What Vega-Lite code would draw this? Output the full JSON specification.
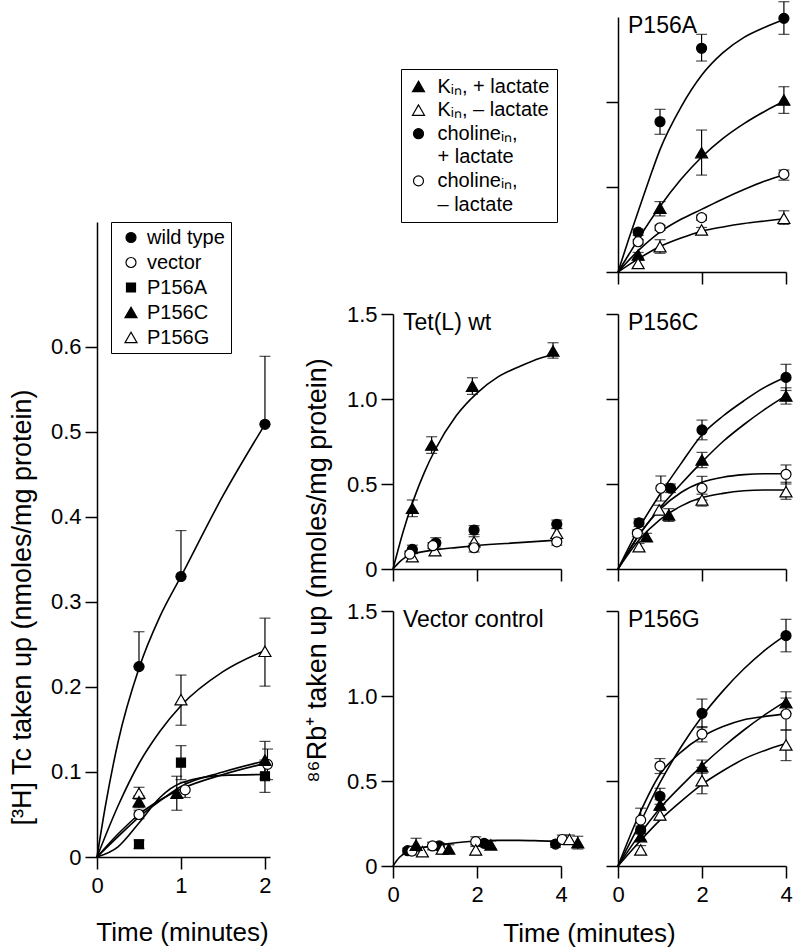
{
"$schema":"https://vega.github.io/schema/vega-lite/v6.json",
"autosize":{"type":"pad"},
"padding":{"left":8,"top":1,"right":2,"bottom":2},
"config":{
 "font":"Liberation Sans",
 "view":{"stroke":null},
 "axis":{"grid":false,"domainColor":"black","tickColor":"black","labelColor":"black","titleColor":"black","domainWidth":1.5,"tickWidth":1.5,"tickSize":12,"labelFontSize":22,"titleFontSize":27,"titleFontWeight":"normal","labelFont":"Liberation Sans","titleFont":"Liberation Sans","labelFlush":false,"labelOverlap":false},
 "axisX":{"labelPadding":6},
 "axisY":{"labelPadding":4},
 "legend":{"labelFontSize":20,"labelFont":"Liberation Sans","labelColor":"black","strokeColor":"black","symbolStrokeColor":"black","symbolStrokeWidth":1.2}
},
"datasets":{
 "pts":[
  {"p":"L","s":"wild type","t":0.5,"v":0.224,"lo":0.224,"hi":0.265},
  {"p":"L","s":"wild type","t":1,"v":0.33,"lo":0.33,"hi":0.384},
  {"p":"L","s":"wild type","t":2,"v":0.509,"lo":0.509,"hi":0.589},
  {"p":"L","s":"vector","t":0.5,"v":0.05,"lo":0.045,"hi":0.055},
  {"p":"L","s":"vector","t":1.05,"v":0.079,"lo":0.07,"hi":0.088},
  {"p":"L","s":"vector","t":2.03,"v":0.109,"lo":0.091,"hi":0.127},
  {"p":"L","s":"P156A","t":0.5,"v":0.015,"lo":0.01,"hi":0.02},
  {"p":"L","s":"P156A","t":1,"v":0.111,"lo":0.091,"hi":0.131},
  {"p":"L","s":"P156A","t":2,"v":0.095,"lo":0.076,"hi":0.114},
  {"p":"L","s":"P156G","t":0.5,"v":0.075,"lo":0.068,"hi":0.082},
  {"p":"L","s":"P156G","t":1,"v":0.185,"lo":0.155,"hi":0.214},
  {"p":"L","s":"P156G","t":2,"v":0.242,"lo":0.201,"hi":0.281},
  {"p":"L","s":"P156C","t":0.5,"v":0.065,"lo":0.058,"hi":0.072},
  {"p":"L","s":"P156C","t":0.95,"v":0.075,"lo":0.055,"hi":0.095},
  {"p":"L","s":"P156C","t":2,"v":0.114,"lo":0.092,"hi":0.136},

  {"p":"T","s":"k+","t":0.46,"v":0.357,"lo":0.308,"hi":0.406},
  {"p":"T","s":"k+","t":0.92,"v":0.729,"lo":0.68,"hi":0.778},
  {"p":"T","s":"k+","t":1.89,"v":1.076,"lo":1.027,"hi":1.125},
  {"p":"T","s":"k+","t":3.81,"v":1.282,"lo":1.24,"hi":1.331},
  {"p":"T","s":"c+","t":0.46,"v":0.115,"lo":0.09,"hi":0.14},
  {"p":"T","s":"c+","t":1.02,"v":0.153,"lo":0.122,"hi":0.184},
  {"p":"T","s":"c+","t":1.93,"v":0.229,"lo":0.203,"hi":0.255},
  {"p":"T","s":"c+","t":3.9,"v":0.263,"lo":0.238,"hi":0.288},
  {"p":"T","s":"k-","t":0.46,"v":0.072,"lo":0.045,"hi":0.1},
  {"p":"T","s":"k-","t":1,"v":0.108,"lo":0.08,"hi":0.135},
  {"p":"T","s":"k-","t":1.93,"v":0.16,"lo":0.13,"hi":0.19},
  {"p":"T","s":"k-","t":3.9,"v":0.21,"lo":0.18,"hi":0.24},
  {"p":"T","s":"c-","t":0.4,"v":0.088,"lo":0.07,"hi":0.105},
  {"p":"T","s":"c-","t":0.95,"v":0.137,"lo":0.12,"hi":0.155},
  {"p":"T","s":"c-","t":1.93,"v":0.125,"lo":0.1,"hi":0.15},
  {"p":"T","s":"c-","t":3.9,"v":0.16,"lo":0.14,"hi":0.18},

  {"p":"V","s":"c+","t":0.35,"v":0.09,"lo":0.075,"hi":0.105},
  {"p":"V","s":"c+","t":1.1,"v":0.118,"lo":0.1,"hi":0.135},
  {"p":"V","s":"c+","t":2.17,"v":0.133,"lo":0.115,"hi":0.15},
  {"p":"V","s":"c+","t":3.87,"v":0.129,"lo":0.11,"hi":0.145},
  {"p":"V","s":"c-","t":0.45,"v":0.088,"lo":0.065,"hi":0.11},
  {"p":"V","s":"c-","t":0.94,"v":0.118,"lo":0.095,"hi":0.14},
  {"p":"V","s":"c-","t":1.97,"v":0.143,"lo":0.115,"hi":0.172},
  {"p":"V","s":"c-","t":4.03,"v":0.156,"lo":0.13,"hi":0.182},
  {"p":"V","s":"k-","t":0.7,"v":0.084,"lo":0.059,"hi":0.11},
  {"p":"V","s":"k-","t":1.17,"v":0.1,"lo":0.07,"hi":0.13},
  {"p":"V","s":"k-","t":1.97,"v":0.094,"lo":0.065,"hi":0.125},
  {"p":"V","s":"k-","t":4.2,"v":0.156,"lo":0.13,"hi":0.182},
  {"p":"V","s":"k+","t":0.55,"v":0.123,"lo":0.085,"hi":0.163},
  {"p":"V","s":"k+","t":1.33,"v":0.1,"lo":0.075,"hi":0.125},
  {"p":"V","s":"k+","t":2.33,"v":0.124,"lo":0.1,"hi":0.148},
  {"p":"V","s":"k+","t":4.4,"v":0.137,"lo":0.1,"hi":0.175},

  {"p":"A","s":"c+","t":0.48,"v":0.234,"lo":0.215,"hi":0.253},
  {"p":"A","s":"c+","t":1,"v":0.884,"lo":0.81,"hi":0.957},
  {"p":"A","s":"c+","t":1.99,"v":1.316,"lo":1.241,"hi":1.398},
  {"p":"A","s":"c+","t":3.95,"v":1.492,"lo":1.398,"hi":1.59},
  {"p":"A","s":"k+","t":0.48,"v":0.1,"lo":0.085,"hi":0.115},
  {"p":"A","s":"k+","t":1,"v":0.375,"lo":0.33,"hi":0.414},
  {"p":"A","s":"k+","t":1.99,"v":0.702,"lo":0.57,"hi":0.835},
  {"p":"A","s":"k+","t":3.95,"v":1.012,"lo":0.933,"hi":1.09},
  {"p":"A","s":"c-","t":0.48,"v":0.178,"lo":0.165,"hi":0.19},
  {"p":"A","s":"c-","t":1,"v":0.26,"lo":0.245,"hi":0.275},
  {"p":"A","s":"c-","t":1.99,"v":0.32,"lo":0.305,"hi":0.335},
  {"p":"A","s":"c-","t":3.95,"v":0.575,"lo":0.54,"hi":0.6},
  {"p":"A","s":"k-","t":0.48,"v":0.05,"lo":0.03,"hi":0.07},
  {"p":"A","s":"k-","t":1,"v":0.149,"lo":0.11,"hi":0.19},
  {"p":"A","s":"k-","t":1.99,"v":0.247,"lo":0.232,"hi":0.262},
  {"p":"A","s":"k-","t":3.95,"v":0.316,"lo":0.28,"hi":0.36},

  {"p":"C","s":"c+","t":0.5,"v":0.272,"lo":0.25,"hi":0.295},
  {"p":"C","s":"c+","t":1.25,"v":0.475,"lo":0.45,"hi":0.5},
  {"p":"C","s":"c+","t":2,"v":0.818,"lo":0.76,"hi":0.876},
  {"p":"C","s":"c+","t":4,"v":1.127,"lo":1.05,"hi":1.204},
  {"p":"C","s":"k+","t":0.68,"v":0.19,"lo":0.17,"hi":0.21},
  {"p":"C","s":"k+","t":1.21,"v":0.318,"lo":0.28,"hi":0.355},
  {"p":"C","s":"k+","t":2,"v":0.641,"lo":0.596,"hi":0.686},
  {"p":"C","s":"k+","t":4,"v":1.018,"lo":0.97,"hi":1.066},
  {"p":"C","s":"c-","t":0.46,"v":0.21,"lo":0.19,"hi":0.23},
  {"p":"C","s":"c-","t":1.02,"v":0.475,"lo":0.4,"hi":0.547},
  {"p":"C","s":"c-","t":2,"v":0.475,"lo":0.405,"hi":0.545},
  {"p":"C","s":"c-","t":4,"v":0.557,"lo":0.5,"hi":0.612},
  {"p":"C","s":"k-","t":0.5,"v":0.131,"lo":0.11,"hi":0.15},
  {"p":"C","s":"k-","t":0.98,"v":0.347,"lo":0.32,"hi":0.375},
  {"p":"C","s":"k-","t":2,"v":0.406,"lo":0.37,"hi":0.44},
  {"p":"C","s":"k-","t":4,"v":0.455,"lo":0.41,"hi":0.51},

  {"p":"G","s":"c+","t":0.54,"v":0.212,"lo":0.19,"hi":0.235},
  {"p":"G","s":"c+","t":1,"v":0.41,"lo":0.363,"hi":0.457},
  {"p":"G","s":"c+","t":2,"v":0.898,"lo":0.814,"hi":0.982},
  {"p":"G","s":"c+","t":4,"v":1.355,"lo":1.26,"hi":1.451},
  {"p":"G","s":"c-","t":0.54,"v":0.27,"lo":0.2,"hi":0.34},
  {"p":"G","s":"c-","t":1,"v":0.588,"lo":0.544,"hi":0.632},
  {"p":"G","s":"c-","t":2,"v":0.776,"lo":0.73,"hi":0.82},
  {"p":"G","s":"c-","t":4,"v":0.894,"lo":0.8,"hi":0.988},
  {"p":"G","s":"k+","t":0.54,"v":0.173,"lo":0.155,"hi":0.19},
  {"p":"G","s":"k+","t":1,"v":0.359,"lo":0.33,"hi":0.39},
  {"p":"G","s":"k+","t":2,"v":0.584,"lo":0.545,"hi":0.623},
  {"p":"G","s":"k+","t":4,"v":0.961,"lo":0.897,"hi":1.025},
  {"p":"G","s":"k-","t":0.54,"v":0.094,"lo":0.07,"hi":0.12},
  {"p":"G","s":"k-","t":1,"v":0.3,"lo":0.27,"hi":0.33},
  {"p":"G","s":"k-","t":2,"v":0.502,"lo":0.425,"hi":0.58},
  {"p":"G","s":"k-","t":4,"v":0.712,"lo":0.62,"hi":0.8}
 ],
 "fits":[
  {"p":"L","s":"wild type","t":0,"v":0},{"p":"L","s":"wild type","t":0.1,"v":0.06},{"p":"L","s":"wild type","t":0.25,"v":0.135},{"p":"L","s":"wild type","t":0.5,"v":0.222},{"p":"L","s":"wild type","t":0.75,"v":0.283},{"p":"L","s":"wild type","t":1,"v":0.33},{"p":"L","s":"wild type","t":1.5,"v":0.425},{"p":"L","s":"wild type","t":2,"v":0.509},
  {"p":"L","s":"P156G","t":0,"v":0},{"p":"L","s":"P156G","t":0.25,"v":0.06},{"p":"L","s":"P156G","t":0.5,"v":0.11},{"p":"L","s":"P156G","t":0.75,"v":0.148},{"p":"L","s":"P156G","t":1,"v":0.178},{"p":"L","s":"P156G","t":1.5,"v":0.218},{"p":"L","s":"P156G","t":2,"v":0.243},
  {"p":"L","s":"vector","t":0,"v":0},{"p":"L","s":"vector","t":0.25,"v":0.027},{"p":"L","s":"vector","t":0.5,"v":0.05},{"p":"L","s":"vector","t":0.75,"v":0.067},{"p":"L","s":"vector","t":1,"v":0.08},{"p":"L","s":"vector","t":1.5,"v":0.097},{"p":"L","s":"vector","t":2,"v":0.11},
  {"p":"L","s":"P156C","t":0,"v":0},{"p":"L","s":"P156C","t":0.25,"v":0.024},{"p":"L","s":"P156C","t":0.5,"v":0.047},{"p":"L","s":"P156C","t":0.75,"v":0.066},{"p":"L","s":"P156C","t":1,"v":0.083},{"p":"L","s":"P156C","t":1.5,"v":0.1},{"p":"L","s":"P156C","t":2,"v":0.113},
  {"p":"L","s":"P156A","t":0,"v":0},{"p":"L","s":"P156A","t":0.25,"v":0.012},{"p":"L","s":"P156A","t":0.5,"v":0.04},{"p":"L","s":"P156A","t":0.75,"v":0.07},{"p":"L","s":"P156A","t":1,"v":0.087},{"p":"L","s":"P156A","t":1.5,"v":0.096},{"p":"L","s":"P156A","t":2,"v":0.097},
  {"p":"T","s":"k+","t":0,"v":0},{"p":"T","s":"k+","t":0.25,"v":0.227},{"p":"T","s":"k+","t":0.5,"v":0.414},{"p":"T","s":"k+","t":0.75,"v":0.57},{"p":"T","s":"k+","t":1,"v":0.7},{"p":"T","s":"k+","t":1.5,"v":0.9},{"p":"T","s":"k+","t":2,"v":1.035},{"p":"T","s":"k+","t":2.5,"v":1.13},{"p":"T","s":"k+","t":3,"v":1.19},{"p":"T","s":"k+","t":3.5,"v":1.24},{"p":"T","s":"k+","t":3.9,"v":1.265},
  {"p":"T","s":"low","t":0,"v":0},{"p":"T","s":"low","t":0.15,"v":0.04},{"p":"T","s":"low","t":0.3,"v":0.07},{"p":"T","s":"low","t":0.5,"v":0.09},{"p":"T","s":"low","t":1,"v":0.112},{"p":"T","s":"low","t":1.5,"v":0.126},{"p":"T","s":"low","t":2,"v":0.138},{"p":"T","s":"low","t":3,"v":0.155},{"p":"T","s":"low","t":3.9,"v":0.17},
  {"p":"V","s":"fit","t":0,"v":0},{"p":"V","s":"fit","t":0.15,"v":0.05},{"p":"V","s":"fit","t":0.3,"v":0.078},{"p":"V","s":"fit","t":0.5,"v":0.097},{"p":"V","s":"fit","t":1,"v":0.12},{"p":"V","s":"fit","t":1.5,"v":0.137},{"p":"V","s":"fit","t":2,"v":0.147},{"p":"V","s":"fit","t":2.5,"v":0.151},{"p":"V","s":"fit","t":3,"v":0.151},{"p":"V","s":"fit","t":3.5,"v":0.148},{"p":"V","s":"fit","t":3.9,"v":0.145},
  {"p":"A","s":"c+","t":0,"v":0},{"p":"A","s":"c+","t":0.25,"v":0.19},{"p":"A","s":"c+","t":0.5,"v":0.37},{"p":"A","s":"c+","t":0.75,"v":0.55},{"p":"A","s":"c+","t":1,"v":0.72},{"p":"A","s":"c+","t":1.5,"v":0.97},{"p":"A","s":"c+","t":2,"v":1.16},{"p":"A","s":"c+","t":2.5,"v":1.29},{"p":"A","s":"c+","t":3,"v":1.38},{"p":"A","s":"c+","t":3.5,"v":1.44},{"p":"A","s":"c+","t":4,"v":1.49},
  {"p":"A","s":"k+","t":0,"v":0},{"p":"A","s":"k+","t":0.25,"v":0.1},{"p":"A","s":"k+","t":0.5,"v":0.2},{"p":"A","s":"k+","t":1,"v":0.385},{"p":"A","s":"k+","t":1.5,"v":0.545},{"p":"A","s":"k+","t":2,"v":0.678},{"p":"A","s":"k+","t":2.5,"v":0.786},{"p":"A","s":"k+","t":3,"v":0.873},{"p":"A","s":"k+","t":3.5,"v":0.946},{"p":"A","s":"k+","t":4,"v":1.01},
  {"p":"A","s":"c-","t":0,"v":0},{"p":"A","s":"c-","t":0.5,"v":0.13},{"p":"A","s":"c-","t":1,"v":0.235},{"p":"A","s":"c-","t":1.5,"v":0.31},{"p":"A","s":"c-","t":2,"v":0.37},{"p":"A","s":"c-","t":2.5,"v":0.43},{"p":"A","s":"c-","t":3,"v":0.485},{"p":"A","s":"c-","t":3.5,"v":0.535},{"p":"A","s":"c-","t":4,"v":0.575},
  {"p":"A","s":"k-","t":0,"v":0},{"p":"A","s":"k-","t":0.5,"v":0.08},{"p":"A","s":"k-","t":1,"v":0.15},{"p":"A","s":"k-","t":1.5,"v":0.2},{"p":"A","s":"k-","t":2,"v":0.24},{"p":"A","s":"k-","t":2.5,"v":0.265},{"p":"A","s":"k-","t":3,"v":0.285},{"p":"A","s":"k-","t":3.5,"v":0.3},{"p":"A","s":"k-","t":4,"v":0.315},
  {"p":"C","s":"c+","t":0,"v":0},{"p":"C","s":"c+","t":0.5,"v":0.24},{"p":"C","s":"c+","t":1,"v":0.44},{"p":"C","s":"c+","t":1.5,"v":0.62},{"p":"C","s":"c+","t":2,"v":0.79},{"p":"C","s":"c+","t":2.5,"v":0.9},{"p":"C","s":"c+","t":3,"v":0.99},{"p":"C","s":"c+","t":3.5,"v":1.07},{"p":"C","s":"c+","t":4,"v":1.13},
  {"p":"C","s":"k+","t":0,"v":0},{"p":"C","s":"k+","t":0.5,"v":0.2},{"p":"C","s":"k+","t":1,"v":0.36},{"p":"C","s":"k+","t":1.5,"v":0.5},{"p":"C","s":"k+","t":2,"v":0.63},{"p":"C","s":"k+","t":2.5,"v":0.75},{"p":"C","s":"k+","t":3,"v":0.85},{"p":"C","s":"k+","t":3.5,"v":0.94},{"p":"C","s":"k+","t":4,"v":1.02},
  {"p":"C","s":"c-","t":0,"v":0},{"p":"C","s":"c-","t":0.5,"v":0.2},{"p":"C","s":"c-","t":1,"v":0.35},{"p":"C","s":"c-","t":1.5,"v":0.45},{"p":"C","s":"c-","t":2,"v":0.51},{"p":"C","s":"c-","t":2.5,"v":0.54},{"p":"C","s":"c-","t":3,"v":0.555},{"p":"C","s":"c-","t":3.5,"v":0.56},{"p":"C","s":"c-","t":4,"v":0.56},
  {"p":"C","s":"k-","t":0,"v":0},{"p":"C","s":"k-","t":0.5,"v":0.17},{"p":"C","s":"k-","t":1,"v":0.29},{"p":"C","s":"k-","t":1.5,"v":0.37},{"p":"C","s":"k-","t":2,"v":0.42},{"p":"C","s":"k-","t":2.5,"v":0.445},{"p":"C","s":"k-","t":3,"v":0.46},{"p":"C","s":"k-","t":3.5,"v":0.465},{"p":"C","s":"k-","t":4,"v":0.465},
  {"p":"G","s":"c+","t":0,"v":0},{"p":"G","s":"c+","t":0.5,"v":0.24},{"p":"G","s":"c+","t":1,"v":0.49},{"p":"G","s":"c+","t":1.5,"v":0.7},{"p":"G","s":"c+","t":2,"v":0.88},{"p":"G","s":"c+","t":2.5,"v":1.03},{"p":"G","s":"c+","t":3,"v":1.16},{"p":"G","s":"c+","t":3.5,"v":1.27},{"p":"G","s":"c+","t":4,"v":1.36},
  {"p":"G","s":"c-","t":0,"v":0},{"p":"G","s":"c-","t":0.5,"v":0.3},{"p":"G","s":"c-","t":1,"v":0.54},{"p":"G","s":"c-","t":1.5,"v":0.67},{"p":"G","s":"c-","t":2,"v":0.76},{"p":"G","s":"c-","t":2.5,"v":0.82},{"p":"G","s":"c-","t":3,"v":0.86},{"p":"G","s":"c-","t":3.5,"v":0.88},{"p":"G","s":"c-","t":4,"v":0.895},
  {"p":"G","s":"k+","t":0,"v":0},{"p":"G","s":"k+","t":0.5,"v":0.18},{"p":"G","s":"k+","t":1,"v":0.34},{"p":"G","s":"k+","t":1.5,"v":0.47},{"p":"G","s":"k+","t":2,"v":0.59},{"p":"G","s":"k+","t":2.5,"v":0.7},{"p":"G","s":"k+","t":3,"v":0.8},{"p":"G","s":"k+","t":3.5,"v":0.89},{"p":"G","s":"k+","t":4,"v":0.97},
  {"p":"G","s":"k-","t":0,"v":0},{"p":"G","s":"k-","t":0.5,"v":0.14},{"p":"G","s":"k-","t":1,"v":0.27},{"p":"G","s":"k-","t":1.5,"v":0.38},{"p":"G","s":"k-","t":2,"v":0.48},{"p":"G","s":"k-","t":2.5,"v":0.56},{"p":"G","s":"k-","t":3,"v":0.63},{"p":"G","s":"k-","t":3.5,"v":0.68},{"p":"G","s":"k-","t":4,"v":0.72}
 ],
 "labels":[
  {"p":"A","n":"P156A","t":0,"v":1.5},
  {"p":"T","n":"Tet(L) wt","t":0,"v":1.5},
  {"p":"C","n":"P156C","t":0,"v":1.5},
  {"p":"V","n":"Vector control","t":0,"v":1.5},
  {"p":"G","n":"P156G","t":0,"v":1.5}
 ]
},
"spacing":28,
"resolve":{"scale":{"shape":"independent","fill":"independent","size":"independent","stroke":"independent"},"legend":{"shape":"independent","fill":"independent","size":"independent","stroke":"independent"}},
"hconcat":[
 {
  "spacing":42,
  "bounds":"flush",
  "resolve":{"scale":{"shape":"independent","fill":"independent","size":"independent","stroke":"independent"},"legend":{"shape":"independent","fill":"independent","size":"independent","stroke":"independent"}},
  "vconcat":[
   {"width":173,"height":163,"data":{"values":[]},"mark":"point"},
   {"width":173,"height":635,
    "encoding":{
     "x":{"field":"t","type":"quantitative","scale":{"domain":[0,2.06],"nice":false},"axis":{"tickCount":2,"labelOverlap":false,"labelFlush":false,"labelExpr":"format(datum.value, 'd')","title":"Time (minutes)","titleFontSize":26,"titleX":85,"titleY":83,"titleBaseline":"alphabetic"}},
     "y":{"field":"v","type":"quantitative","scale":{"domain":[0,0.747],"nice":false},"axis":{"values":[0,0.1,0.2,0.3,0.4,0.5,0.6],"labelOverlap":false,"labelExpr":"datum.value == 0 ? '0' : format(datum.value, '.1f')","title":"[³H] Tc taken up (nmoles/mg protein)","titleY":385,"titlePadding":14}}
    },
    "layer":[
     {"data":{"name":"fits"},"transform":[{"filter":"datum.p == 'L'"}],"mark":{"type":"line","interpolate":"monotone","color":"black","strokeWidth":1.6},"encoding":{"detail":{"field":"s","type":"nominal"}}},
     {"data":{"name":"pts"},"transform":[{"filter":"datum.p == 'L'"}],"mark":{"type":"rule","color":"black","strokeWidth":1.2},"encoding":{"y":{"field":"lo","type":"quantitative"},"y2":{"field":"hi"}}},
     {"data":{"name":"pts"},"transform":[{"filter":"datum.p == 'L'"}],"mark":{"type":"tick","orient":"horizontal","size":11,"thickness":1.2,"color":"black"},"encoding":{"y":{"field":"hi","type":"quantitative"}}},
     {"data":{"name":"pts"},"transform":[{"filter":"datum.p == 'L'"}],"mark":{"type":"tick","orient":"horizontal","size":11,"thickness":1.2,"color":"black"},"encoding":{"y":{"field":"lo","type":"quantitative"}}},
     {"data":{"name":"pts"},"transform":[{"filter":"datum.p == 'L'"}],"mark":{"type":"point","opacity":1,"strokeWidth":1.2},
      "encoding":{
       "shape":{"field":"s","type":"nominal","scale":{"domain":["wild type","vector","P156A","P156C","P156G"],"range":["circle","circle","square","triangle-up","triangle-up"]},"legend":{"title":null,"orient":"none","legendX":14,"legendY":0,"padding":5.5,"rowPadding":5,"symbolOffset":4.5,"labelOffset":6,"strokeColor":"black"}},
       "fill":{"field":"s","type":"nominal","scale":{"domain":["wild type","vector","P156A","P156C","P156G"],"range":["black","white","black","black","white"]},"legend":{"title":null,"orient":"none","legendX":14,"legendY":0,"padding":5.5,"rowPadding":5,"symbolOffset":4.5,"labelOffset":6,"strokeColor":"black"}},
       "stroke":{"field":"s","type":"nominal","scale":{"domain":["wild type","vector","P156A","P156C","P156G"],"range":["black","black","black","black","black"]},"legend":{"title":null,"orient":"none","legendX":14,"legendY":0,"padding":5.5,"rowPadding":5,"symbolOffset":4.5,"labelOffset":6,"strokeColor":"black"}},
       "size":{"field":"s","type":"nominal","scale":{"type":"ordinal","domain":["wild type","vector","P156A","P156C","P156G"],"range":[100,100,81,144,144]},"legend":{"title":null,"orient":"none","legendX":14,"legendY":0,"padding":5.5,"rowPadding":5,"symbolOffset":4.5,"labelOffset":6,"strokeColor":"black"}}}}
    ]
   }
  ]
 },
 {
  "columns":2,
  "spacing":{"row":42,"column":57},
  "bounds":"flush",
  "resolve":{"scale":{"shape":"independent","fill":"independent","size":"independent","stroke":"independent"},"legend":{"shape":"independent","fill":"independent","size":"independent","stroke":"independent"}},
  "concat":[
   {"width":168,"height":255,"data":{"values":[]},
    "mark":{"type":"point","opacity":1,"strokeWidth":1.2},
    "encoding":{
     "shape":{"field":"s","type":"nominal","scale":{"domain":["k+","k-","c+","c+2","c-","c-2"],"range":["triangle-up","triangle-up","circle","circle","circle","circle"]},"legend":{"title":null,"orient":"none","legendX":8,"legendY":52,"padding":7.5,"rowPadding":3.6,"labelOffset":9,"strokeColor":"black","labelExpr":"datum.value == 'k+' ? 'Kᵢₙ, + lactate' : datum.value == 'k-' ? 'Kᵢₙ, – lactate' : (datum.value == 'c+' || datum.value == 'c-') ? 'cholineᵢₙ,' : datum.value == 'c+2' ? '+ lactate' : '– lactate'"}},
     "fill":{"field":"s","type":"nominal","scale":{"domain":["k+","k-","c+","c+2","c-","c-2"],"range":["black","white","black","transparent","white","transparent"]},"legend":{"title":null,"orient":"none","legendX":8,"legendY":52,"padding":7.5,"rowPadding":3.6,"labelOffset":9,"strokeColor":"black","labelExpr":"datum.value == 'k+' ? 'Kᵢₙ, + lactate' : datum.value == 'k-' ? 'Kᵢₙ, – lactate' : (datum.value == 'c+' || datum.value == 'c-') ? 'cholineᵢₙ,' : datum.value == 'c+2' ? '+ lactate' : '– lactate'"}},
     "stroke":{"field":"s","type":"nominal","scale":{"domain":["k+","k-","c+","c+2","c-","c-2"],"range":["black","black","black","transparent","black","transparent"]},"legend":{"title":null,"orient":"none","legendX":8,"legendY":52,"padding":7.5,"rowPadding":3.6,"labelOffset":9,"strokeColor":"black","labelExpr":"datum.value == 'k+' ? 'Kᵢₙ, + lactate' : datum.value == 'k-' ? 'Kᵢₙ, – lactate' : (datum.value == 'c+' || datum.value == 'c-') ? 'cholineᵢₙ,' : datum.value == 'c+2' ? '+ lactate' : '– lactate'"}},
     "size":{"field":"s","type":"nominal","scale":{"type":"ordinal","domain":["k+","k-","c+","c+2","c-","c-2"],"range":[144,144,100,0,100,0]},"legend":{"title":null,"orient":"none","legendX":8,"legendY":52,"padding":7.5,"rowPadding":3.6,"labelOffset":9,"strokeColor":"black","labelExpr":"datum.value == 'k+' ? 'Kᵢₙ, + lactate' : datum.value == 'k-' ? 'Kᵢₙ, – lactate' : (datum.value == 'c+' || datum.value == 'c-') ? 'cholineᵢₙ,' : datum.value == 'c+2' ? '+ lactate' : '– lactate'"}}
    }
   },
   {"width":168,"height":255,
    "encoding":{
     "x":{"field":"t","type":"quantitative","scale":{"domain":[0,4],"nice":false},"axis":{"values":[0,2,4],"labels":false,"title":null}},
     "y":{"field":"v","type":"quantitative","scale":{"domain":[0,1.5],"nice":false},"axis":{"values":[0,0.5,1],"labels":false,"title":null}}
    },
    "layer":[
     {"data":{"name":"fits"},"transform":[{"filter":"datum.p == 'A'"}],"mark":{"type":"line","interpolate":"monotone","color":"black","strokeWidth":1.6},"encoding":{"detail":{"field":"s","type":"nominal"}}},
     {"data":{"name":"pts"},"transform":[{"filter":"datum.p == 'A'"}],"mark":{"type":"rule","color":"black","strokeWidth":1.2},"encoding":{"y":{"field":"lo","type":"quantitative"},"y2":{"field":"hi"}}},
     {"data":{"name":"pts"},"transform":[{"filter":"datum.p == 'A'"}],"mark":{"type":"tick","orient":"horizontal","size":11,"thickness":1.2,"color":"black"},"encoding":{"y":{"field":"hi","type":"quantitative"}}},
     {"data":{"name":"pts"},"transform":[{"filter":"datum.p == 'A'"}],"mark":{"type":"tick","orient":"horizontal","size":11,"thickness":1.2,"color":"black"},"encoding":{"y":{"field":"lo","type":"quantitative"}}},
     {"data":{"name":"pts"},"transform":[{"filter":"datum.p == 'A'"}],"mark":{"type":"point","opacity":1,"stroke":"black","strokeWidth":1.2},
      "encoding":{
       "shape":{"field":"s","type":"nominal","scale":{"domain":["k+","k-","c+","c-"],"range":["triangle-up","triangle-up","circle","circle"]},"legend":null},
       "fill":{"field":"s","type":"nominal","scale":{"domain":["k+","k-","c+","c-"],"range":["black","white","black","white"]},"legend":null},
       "size":{"field":"s","type":"nominal","scale":{"type":"ordinal","domain":["k+","k-","c+","c-"],"range":[144,144,100,100]},"legend":null}}},
     {"data":{"name":"labels"},"transform":[{"filter":"datum.p == 'A'"}],"mark":{"type":"text","align":"left","baseline":"alphabetic","dx":10,"dy":16,"fontSize":23,"color":"black"},"encoding":{"text":{"field":"n","type":"nominal"}}}
    ]
   },
   {"width":168,"height":255,
    "encoding":{
     "x":{"field":"t","type":"quantitative","scale":{"domain":[0,4],"nice":false},"axis":{"values":[0,2,4],"labels":false,"title":null}},
     "y":{"field":"v","type":"quantitative","scale":{"domain":[0,1.5],"nice":false},"axis":{"values":[0,0.5,1,1.5],"labelExpr":"datum.value == 0 ? '0' : format(datum.value, '.1f')","title":"⁸⁶Rb⁺ taken up (nmoles/mg protein)","titleY":256,"titlePadding":15}}
    },
    "layer":[
     {"data":{"name":"fits"},"transform":[{"filter":"datum.p == 'T'"}],"mark":{"type":"line","interpolate":"monotone","color":"black","strokeWidth":1.6},"encoding":{"detail":{"field":"s","type":"nominal"}}},
     {"data":{"name":"pts"},"transform":[{"filter":"datum.p == 'T'"}],"mark":{"type":"rule","color":"black","strokeWidth":1.2},"encoding":{"y":{"field":"lo","type":"quantitative"},"y2":{"field":"hi"}}},
     {"data":{"name":"pts"},"transform":[{"filter":"datum.p == 'T'"}],"mark":{"type":"tick","orient":"horizontal","size":11,"thickness":1.2,"color":"black"},"encoding":{"y":{"field":"hi","type":"quantitative"}}},
     {"data":{"name":"pts"},"transform":[{"filter":"datum.p == 'T'"}],"mark":{"type":"tick","orient":"horizontal","size":11,"thickness":1.2,"color":"black"},"encoding":{"y":{"field":"lo","type":"quantitative"}}},
     {"data":{"name":"pts"},"transform":[{"filter":"datum.p == 'T'"}],"mark":{"type":"point","opacity":1,"stroke":"black","strokeWidth":1.2},
      "encoding":{
       "shape":{"field":"s","type":"nominal","scale":{"domain":["k+","k-","c+","c-"],"range":["triangle-up","triangle-up","circle","circle"]},"legend":null},
       "fill":{"field":"s","type":"nominal","scale":{"domain":["k+","k-","c+","c-"],"range":["black","white","black","white"]},"legend":null},
       "size":{"field":"s","type":"nominal","scale":{"type":"ordinal","domain":["k+","k-","c+","c-"],"range":[144,144,100,100]},"legend":null}}},
     {"data":{"name":"labels"},"transform":[{"filter":"datum.p == 'T'"}],"mark":{"type":"text","align":"left","baseline":"alphabetic","dx":10,"dy":16,"fontSize":23,"color":"black"},"encoding":{"text":{"field":"n","type":"nominal"}}}
    ]
   },
   {"width":168,"height":255,
    "encoding":{
     "x":{"field":"t","type":"quantitative","scale":{"domain":[0,4],"nice":false},"axis":{"values":[0,2,4],"labels":false,"title":null}},
     "y":{"field":"v","type":"quantitative","scale":{"domain":[0,1.5],"nice":false},"axis":{"values":[0,0.5,1,1.5],"labels":false,"title":null}}
    },
    "layer":[
     {"data":{"name":"fits"},"transform":[{"filter":"datum.p == 'C'"}],"mark":{"type":"line","interpolate":"monotone","color":"black","strokeWidth":1.6},"encoding":{"detail":{"field":"s","type":"nominal"}}},
     {"data":{"name":"pts"},"transform":[{"filter":"datum.p == 'C'"}],"mark":{"type":"rule","color":"black","strokeWidth":1.2},"encoding":{"y":{"field":"lo","type":"quantitative"},"y2":{"field":"hi"}}},
     {"data":{"name":"pts"},"transform":[{"filter":"datum.p == 'C'"}],"mark":{"type":"tick","orient":"horizontal","size":11,"thickness":1.2,"color":"black"},"encoding":{"y":{"field":"hi","type":"quantitative"}}},
     {"data":{"name":"pts"},"transform":[{"filter":"datum.p == 'C'"}],"mark":{"type":"tick","orient":"horizontal","size":11,"thickness":1.2,"color":"black"},"encoding":{"y":{"field":"lo","type":"quantitative"}}},
     {"data":{"name":"pts"},"transform":[{"filter":"datum.p == 'C'"}],"mark":{"type":"point","opacity":1,"stroke":"black","strokeWidth":1.2},
      "encoding":{
       "shape":{"field":"s","type":"nominal","scale":{"domain":["k+","k-","c+","c-"],"range":["triangle-up","triangle-up","circle","circle"]},"legend":null},
       "fill":{"field":"s","type":"nominal","scale":{"domain":["k+","k-","c+","c-"],"range":["black","white","black","white"]},"legend":null},
       "size":{"field":"s","type":"nominal","scale":{"type":"ordinal","domain":["k+","k-","c+","c-"],"range":[144,144,100,100]},"legend":null}}},
     {"data":{"name":"labels"},"transform":[{"filter":"datum.p == 'C'"}],"mark":{"type":"text","align":"left","baseline":"alphabetic","dx":10,"dy":16,"fontSize":23,"color":"black"},"encoding":{"text":{"field":"n","type":"nominal"}}}
    ]
   },
   {"width":168,"height":255,
    "encoding":{
     "x":{"field":"t","type":"quantitative","scale":{"domain":[0,4],"nice":false},"axis":{"values":[0,2,4],"format":"d","title":"Time (minutes)","titleFontSize":26,"titleX":196,"titleY":75,"titleBaseline":"alphabetic"}},
     "y":{"field":"v","type":"quantitative","scale":{"domain":[0,1.5],"nice":false},"axis":{"values":[0,0.5,1,1.5],"labelExpr":"datum.value == 0 ? '0' : format(datum.value, '.1f')","title":null}}
    },
    "layer":[
     {"data":{"name":"fits"},"transform":[{"filter":"datum.p == 'V'"}],"mark":{"type":"line","interpolate":"monotone","color":"black","strokeWidth":1.6},"encoding":{"detail":{"field":"s","type":"nominal"}}},
     {"data":{"name":"pts"},"transform":[{"filter":"datum.p == 'V'"}],"mark":{"type":"rule","color":"black","strokeWidth":1.2},"encoding":{"y":{"field":"lo","type":"quantitative"},"y2":{"field":"hi"}}},
     {"data":{"name":"pts"},"transform":[{"filter":"datum.p == 'V'"}],"mark":{"type":"tick","orient":"horizontal","size":11,"thickness":1.2,"color":"black"},"encoding":{"y":{"field":"hi","type":"quantitative"}}},
     {"data":{"name":"pts"},"transform":[{"filter":"datum.p == 'V'"}],"mark":{"type":"tick","orient":"horizontal","size":11,"thickness":1.2,"color":"black"},"encoding":{"y":{"field":"lo","type":"quantitative"}}},
     {"data":{"name":"pts"},"transform":[{"filter":"datum.p == 'V'"}],"mark":{"type":"point","opacity":1,"stroke":"black","strokeWidth":1.2},
      "encoding":{
       "shape":{"field":"s","type":"nominal","scale":{"domain":["k+","k-","c+","c-"],"range":["triangle-up","triangle-up","circle","circle"]},"legend":null},
       "fill":{"field":"s","type":"nominal","scale":{"domain":["k+","k-","c+","c-"],"range":["black","white","black","white"]},"legend":null},
       "size":{"field":"s","type":"nominal","scale":{"type":"ordinal","domain":["k+","k-","c+","c-"],"range":[144,144,100,100]},"legend":null}}},
     {"data":{"name":"labels"},"transform":[{"filter":"datum.p == 'V'"}],"mark":{"type":"text","align":"left","baseline":"alphabetic","dx":10,"dy":16,"fontSize":23,"color":"black"},"encoding":{"text":{"field":"n","type":"nominal"}}}
    ]
   },
   {"width":168,"height":255,
    "encoding":{
     "x":{"field":"t","type":"quantitative","scale":{"domain":[0,4],"nice":false},"axis":{"values":[0,2,4],"format":"d","title":null}},
     "y":{"field":"v","type":"quantitative","scale":{"domain":[0,1.5],"nice":false},"axis":{"values":[0,0.5,1,1.5],"labels":false,"title":null}}
    },
    "layer":[
     {"data":{"name":"fits"},"transform":[{"filter":"datum.p == 'G'"}],"mark":{"type":"line","interpolate":"monotone","color":"black","strokeWidth":1.6},"encoding":{"detail":{"field":"s","type":"nominal"}}},
     {"data":{"name":"pts"},"transform":[{"filter":"datum.p == 'G'"}],"mark":{"type":"rule","color":"black","strokeWidth":1.2},"encoding":{"y":{"field":"lo","type":"quantitative"},"y2":{"field":"hi"}}},
     {"data":{"name":"pts"},"transform":[{"filter":"datum.p == 'G'"}],"mark":{"type":"tick","orient":"horizontal","size":11,"thickness":1.2,"color":"black"},"encoding":{"y":{"field":"hi","type":"quantitative"}}},
     {"data":{"name":"pts"},"transform":[{"filter":"datum.p == 'G'"}],"mark":{"type":"tick","orient":"horizontal","size":11,"thickness":1.2,"color":"black"},"encoding":{"y":{"field":"lo","type":"quantitative"}}},
     {"data":{"name":"pts"},"transform":[{"filter":"datum.p == 'G'"}],"mark":{"type":"point","opacity":1,"stroke":"black","strokeWidth":1.2},
      "encoding":{
       "shape":{"field":"s","type":"nominal","scale":{"domain":["k+","k-","c+","c-"],"range":["triangle-up","triangle-up","circle","circle"]},"legend":null},
       "fill":{"field":"s","type":"nominal","scale":{"domain":["k+","k-","c+","c-"],"range":["black","white","black","white"]},"legend":null},
       "size":{"field":"s","type":"nominal","scale":{"type":"ordinal","domain":["k+","k-","c+","c-"],"range":[144,144,100,100]},"legend":null}}},
     {"data":{"name":"labels"},"transform":[{"filter":"datum.p == 'G'"}],"mark":{"type":"text","align":"left","baseline":"alphabetic","dx":10,"dy":16,"fontSize":23,"color":"black"},"encoding":{"text":{"field":"n","type":"nominal"}}}
    ]
   }
  ]
 }
]
}
